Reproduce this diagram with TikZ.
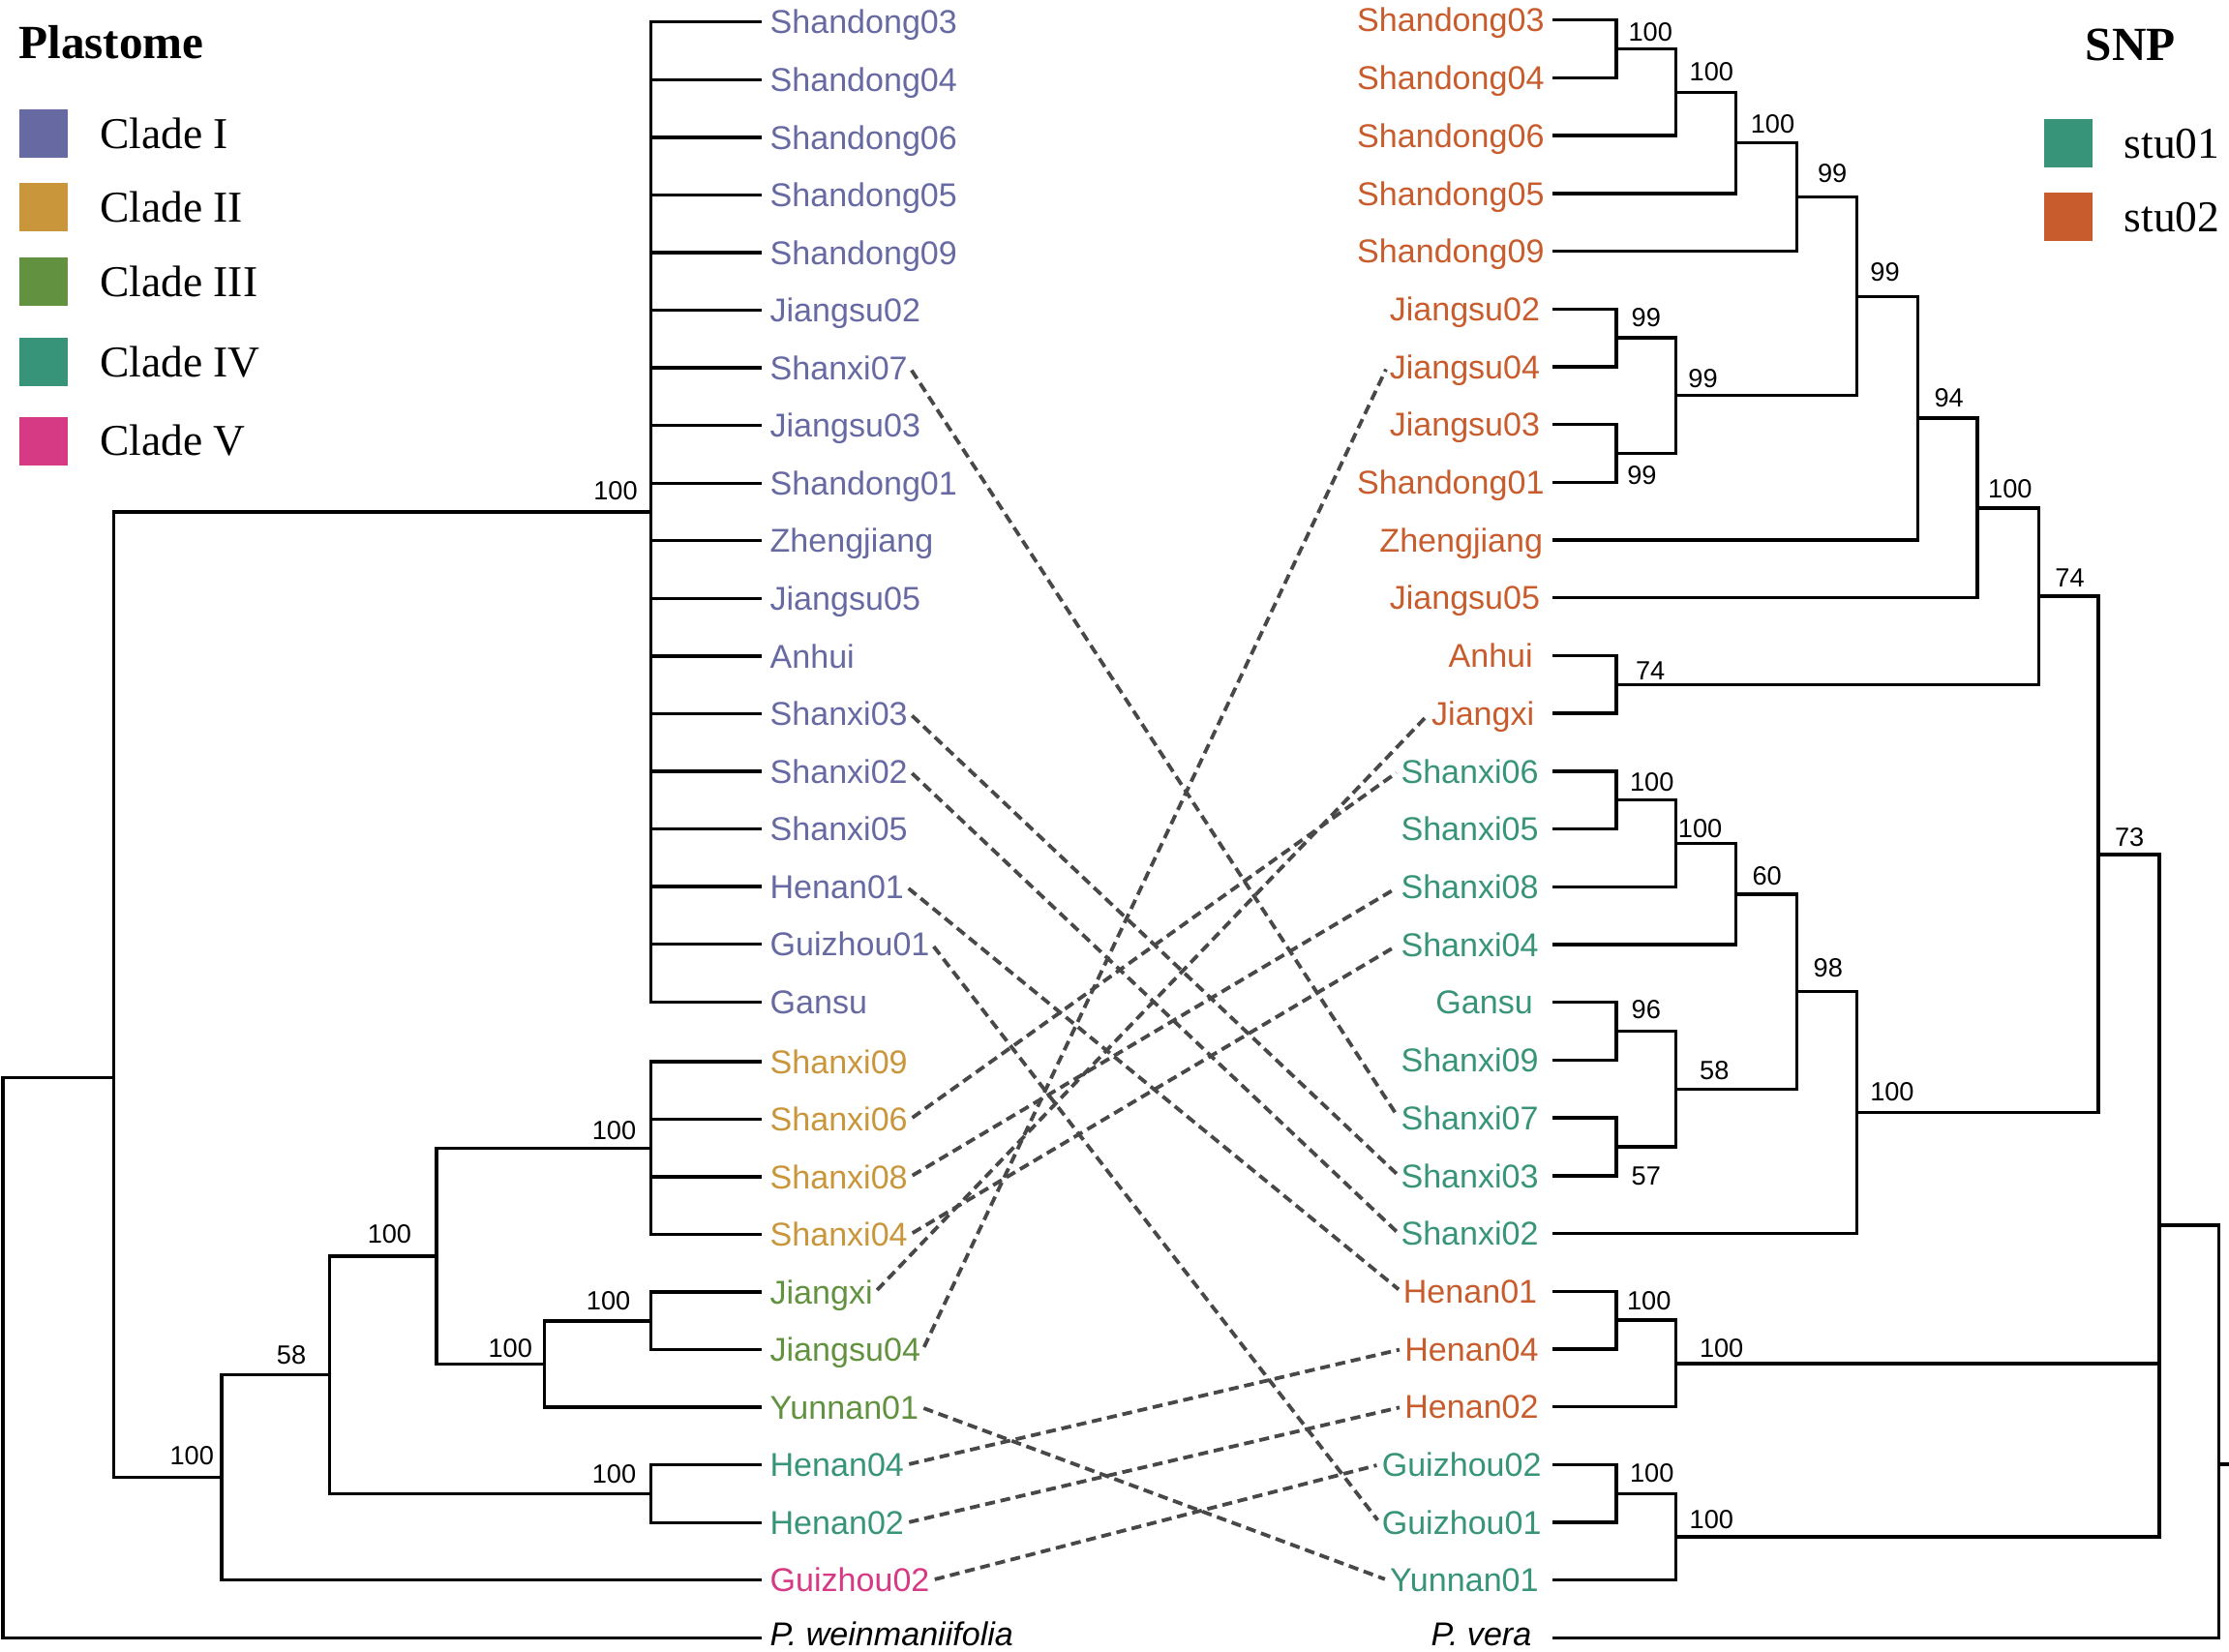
\documentclass[tikz,border=0pt]{standalone}
\usepackage{fontspec}
\setmainfont{Liberation Serif}
\newfontfamily\lsans{Liberation Sans}
\definecolor{c1}{RGB}{103,105,163}
\definecolor{c2}{RGB}{201,150,60}
\definecolor{c3}{RGB}{98,146,64}
\definecolor{c4}{RGB}{56,148,120}
\definecolor{c5}{RGB}{214,58,132}
\definecolor{s2}{RGB}{200,92,44}
\definecolor{lnkgray}{RGB}{72,72,72}
\begin{document}
\begin{tikzpicture}[x=1pt,y=-1pt,
  br/.style={line width=2.3pt, line cap=rect, line join=miter},
  lab/.style={font=\lsans\fontsize{23.2}{27}\selectfont, inner xsep=1.5pt, inner ysep=0pt, text height=16.6pt, text depth=0pt},
  bs/.style={font=\lsans\fontsize{18.5}{22}\selectfont, inner sep=0pt, text height=13.2pt, text depth=0pt},
  lnk/.style={draw=lnkgray, line width=2.6pt, dash pattern=on 7pt off 4pt, shorten <=2pt, shorten >=2pt},
  leg/.style={font=\fontsize{31}{36}\selectfont, inner sep=0pt, anchor=west, text height=20.5pt, text depth=0pt},
  sq/.style={draw=none, minimum size=34pt, inner sep=0pt},
  ttl/.style={font=\bfseries\fontsize{33.5}{38}\selectfont, anchor=base west, inner sep=0pt}]
\useasboundingbox (0,0) rectangle (1568,1162);

% ---------------- Left tree (Plastome) ----------------
\foreach \n/\y/\c/\px in {Shandong03/15.5/c1/458, Shandong04/56.05/c1/458, Shandong06/96.6/c1/458,
  Shandong05/137.15/c1/458, Shandong09/177.7/c1/458, Jiangsu02/218.25/c1/458, Shanxi07/258.8/c1/458,
  Jiangsu03/299.35/c1/458, Shandong01/339.9/c1/458, Zhengjiang/380.45/c1/458, Jiangsu05/421/c1/458,
  Anhui/461.55/c1/458, Shanxi03/502.1/c1/458, Shanxi02/542.65/c1/458, Shanxi05/583.2/c1/458,
  Henan01/623.75/c1/458, Guizhou01/664.3/c1/458, Gansu/704.85/c1/458,
  Shanxi09/747/c2/458, Shanxi06/787.5/c2/458, Shanxi08/828/c2/458, Shanxi04/868.5/c2/458,
  Jiangxi/909/c3/458, Jiangsu04/949.5/c3/458, Yunnan01/990/c3/383,
  Henan04/1030.5/c4/458, Henan02/1071.3/c4/458, Guizhou02/1111.6/c5/156}
{
  \node[lab, text=\c, anchor=west] (L-\n) at (540,\y) {\n};
  \draw[br] (\px,\y) -- (535,\y);
}
\node[lab, anchor=west] (L-Pw) at (540,1149.8) {\textit{P. weinmaniifolia}};
\draw[br] (2,1152.3) -- (535,1152.3);

\draw[br] (458,15.5) -- (458,704.85);
\draw[br] (458,747) -- (458,868.5);
\draw[br] (458,909) -- (458,949.5);
\draw[br] (383,929.3) -- (458,929.3);
\draw[br] (383,929.3) -- (383,990);
\draw[br] (307,959.6) -- (383,959.6);
\draw[br] (307,807.7) -- (458,807.7);
\draw[br] (307,807.7) -- (307,959.6);
\draw[br] (232,883.7) -- (307,883.7);
\draw[br] (458,1030.5) -- (458,1071.3);
\draw[br] (232,1050.9) -- (458,1050.9);
\draw[br] (232,883.7) -- (232,1050.9);
\draw[br] (156,967.3) -- (232,967.3);
\draw[br] (156,967.3) -- (156,1111.6);
\draw[br] (80,1039.4) -- (156,1039.4);
\draw[br] (80,360.2) -- (458,360.2);
\draw[br] (80,360.2) -- (80,1039.4);
\draw[br] (2,758) -- (80,758);
\draw[br] (2,758) -- (2,1152.3);

\foreach \x/\y/\t in {433/345/100, 135/1024/100, 205/953/58, 274/868/100, 432/795/100,
  428/915/100, 359/948/100, 432/1037/100}
  \node[bs] at (\x,\y) {\t};

% ---------------- Right tree (SNP) ----------------
\foreach \n/\y/\c/\px/\ex in {Shandong03/14.1/s2/1137/1088, Shandong04/54.75/s2/1137/1088,
  Shandong06/95.4/s2/1179/1088, Shandong05/136.05/s2/1221/1088, Shandong09/176.7/s2/1264/1088,
  Jiangsu02/217.35/s2/1137/1085, Jiangsu04/258/s2/1137/1085, Jiangsu03/298.65/s2/1137/1085,
  Shandong01/339.3/s2/1137/1088, Zhengjiang/379.95/s2/1349/1087, Jiangsu05/420.6/s2/1391/1085,
  Anhui/461.25/s2/1137/1080, Jiangxi/501.9/s2/1137/1081,
  Shanxi06/542.55/c4/1137/1084, Shanxi05/583.2/c4/1137/1084, Shanxi08/623.85/c4/1179/1084,
  Shanxi04/664.5/c4/1221/1084, Gansu/705.15/c4/1137/1080, Shanxi09/745.8/c4/1137/1084,
  Shanxi07/786.45/c4/1137/1084, Shanxi03/827.1/c4/1137/1084, Shanxi02/867.75/c4/1306/1084,
  Henan01/908.4/s2/1137/1083, Henan04/949.05/s2/1137/1084, Henan02/989.7/s2/1179/1084,
  Guizhou02/1030.35/c4/1137/1086, Guizhou01/1071/c4/1137/1086, Yunnan01/1111.65/c4/1179/1084}
{
  \node[lab, text=\c, anchor=east] (R-\n) at (\ex,\y) {\n};
  \draw[br] (1093,\y) -- (\px,\y);
}
\node[lab, anchor=east] (R-Pv) at (1079,1149.8) {\textit{P. vera}};
\draw[br] (1093,1152.3) -- (1561,1152.3);

% verticals
\foreach \x/\a/\b in {1137/14.1/54.75, 1179/34.4/95.4, 1221/64.9/136.05, 1264/100.5/176.7,
  1137/217.35/258, 1137/298.65/339.3, 1179/237.7/319, 1306/138.6/278.3, 1349/208.5/379.95,
  1391/294.2/420.6, 1137/461.25/501.9, 1434/357.4/481.6, 1137/542.55/583.2, 1179/562.9/623.85,
  1221/593.4/664.5, 1137/705.15/745.8, 1137/786.45/827.1, 1179/725.5/806.8, 1264/629/766.1,
  1306/697.6/867.75, 1476/419.5/782.7, 1137/908.4/949.05, 1179/928.7/989.7, 1137/1030.35/1071,
  1179/1050.7/1111.65, 1519/601.1/1081.2, 1561/862/1152.3}
  \draw[br] (\x,\a) -- (\x,\b);
% internal horizontals
\foreach \a/\b/\y in {1137/1179/34.4, 1179/1221/64.9, 1221/1264/100.5, 1264/1306/138.6,
  1137/1179/237.7, 1137/1179/319, 1179/1306/278.3, 1306/1349/208.5, 1349/1391/294.2,
  1391/1434/357.4, 1137/1434/481.6, 1434/1476/419.5, 1137/1179/562.9, 1179/1221/593.4,
  1221/1264/629, 1137/1179/725.5, 1137/1179/806.8, 1179/1264/766.1, 1264/1306/697.6,
  1306/1476/782.7, 1476/1519/601.1, 1137/1179/928.7, 1179/1519/959.2, 1137/1179/1050.7,
  1179/1519/1081.2, 1519/1561/862, 1561/1567/1030}
  \draw[br] (\a,\y) -- (\b,\y);

\foreach \x/\y/\t in {1161/22/100, 1204/50/100, 1247/87/100, 1289/122/99, 1326/191/99,
  1158/223/99, 1198/266/99, 1155/334/99, 1371/280/94, 1414/344/100, 1456/406/74, 1161/472/74,
  1498/589/73, 1162/550/100, 1196/583/100, 1243/616/60, 1286/681/98, 1158/710/96, 1206/753/58,
  1158/827/57, 1331/768/100, 1160/915/100, 1211/948/100, 1162/1036/100, 1204/1069/100}
  \node[bs] at (\x,\y) {\t};

% ---------------- Connectors ----------------
\foreach \n in {Shanxi07, Shanxi03, Shanxi02, Henan01, Guizhou01, Shanxi06, Shanxi08,
  Shanxi04, Jiangxi, Jiangsu04, Yunnan01, Henan04, Henan02, Guizhou02}
  \draw[lnk] (L-\n.east) -- (R-\n.west);

% ---------------- Legends ----------------
\node[ttl] (plast) at (13,41) {Plastome};
\foreach \i/\y/\c/\t in {1/94/c1/Clade I, 2/145.7/c2/Clade II, 3/198.4/c3/Clade III,
  4/254.6/c4/Clade IV, 5/310.4/c5/Clade V}
{
  \node[sq, fill=\c] (sq\i) at (30.6,\y) {};
  \node[leg] (lt\i) at (70,\y) {\t};
}
\node[ttl] (snp) at (1467,42.7) {SNP};
\node[sq, fill=c4] (sqa) at (1455,101) {};
\node[leg] (lta) at (1494,101) {stu01};
\node[sq, fill=s2] (sqb) at (1455,152.5) {};
\node[leg] (ltb) at (1494,152.5) {stu02};
\end{tikzpicture}
\end{document}
